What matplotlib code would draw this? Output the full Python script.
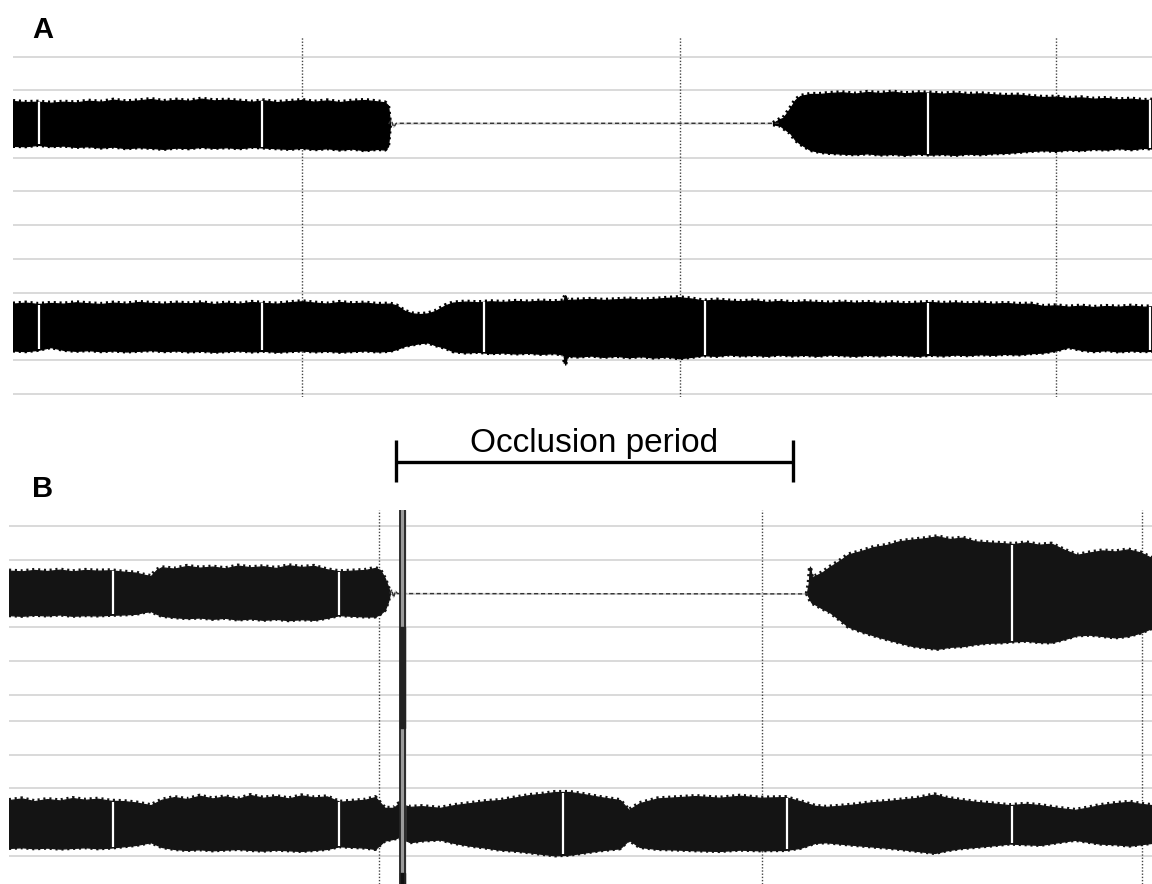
import numpy as np
import matplotlib
matplotlib.use("Agg")
from matplotlib import pyplot as plt

plt.rcParams['font.family'] = ['Liberation Sans', 'DejaVu Sans']

# time in s, amplitude in grid divisions relative to each channel baseline

# ---------------- panel A ----------------
a_ch2_base = -6.0
a_grid = [2, 1, 0, -1, -2, -3, -4, -5, -6, -7, -8]
a_marks = [46.0, 106.2, 166.0]
a_gaps = [4.2, 39.6, 75.0, 110.1, 145.6, 181.0]

# channel 1, before occlusion
a1_pre_t = [0, 2, 4, 6, 8, 10, 12, 14, 16, 18, 20, 22, 24, 26, 28, 30, 32, 34, 36, 38,
            40, 42, 44, 46, 48, 50, 52, 54, 56, 58, 59.2, 59.7, 60.0]
a1_pre_top = [0.68, 0.65, 0.66, 0.63, 0.66, 0.64, 0.69, 0.66, 0.72, 0.67, 0.70, 0.74, 0.68,
              0.72, 0.69, 0.75, 0.70, 0.72, 0.69, 0.66, 0.70, 0.65, 0.68, 0.71, 0.66, 0.70,
              0.65, 0.69, 0.71, 0.67, 0.64, 0.55, 0.04]
a1_pre_bot = [-0.65, -0.66, -0.62, -0.66, -0.64, -0.68, -0.66, -0.70, -0.67, -0.72, -0.69,
              -0.71, -0.74, -0.70, -0.72, -0.68, -0.71, -0.69, -0.72, -0.68, -0.70, -0.72,
              -0.74, -0.71, -0.75, -0.72, -0.76, -0.73, -0.78, -0.74, -0.76, -0.66, -0.04]
# channel 1, flat during occlusion
a1_flat_t = [59.8, 60.2, 60.6, 61.0, 122.1]
a1_flat_v = [0.0, 0.12, -0.10, 0.02, 0.02]
# channel 1, reperfusion
a1_post_t = [121.0, 122.1, 122.6, 123.7, 124.5, 125.3, 126.1, 126.9, 128.4, 130, 132, 134,
             136, 138, 140, 142, 144, 146, 148, 150, 152, 154, 156, 158, 160, 162, 164, 166,
             168, 170, 172, 174, 176, 178, 180, 181.3]
a1_post_top = [0.03, 0.15, 0.18, 0.47, 0.71, 0.83, 0.86, 0.89, 0.89, 0.92, 0.94, 0.90, 0.95,
               0.92, 0.96, 0.91, 0.94, 0.93, 0.90, 0.93, 0.89, 0.91, 0.88, 0.86, 0.87, 0.83,
               0.80, 0.81, 0.77, 0.79, 0.75, 0.77, 0.73, 0.75, 0.71, 0.72]
a1_post_bot = [-0.01, -0.05, -0.12, -0.27, -0.47, -0.59, -0.68, -0.77, -0.83, -0.86, -0.88,
               -0.90, -0.87, -0.91, -0.89, -0.92, -0.88, -0.91, -0.89, -0.92, -0.88, -0.90,
               -0.87, -0.86, -0.83, -0.80, -0.78, -0.80, -0.76, -0.78, -0.74, -0.76, -0.72,
               -0.75, -0.71, -0.73]

# channel 2
a2_t = [0, 2, 4, 6, 8, 10, 12, 14, 16, 18, 20, 22, 24, 26, 28, 30, 32, 34, 36, 38, 40, 42,
        44, 46, 48, 50, 52, 54, 56, 58, 60,
        61, 62.4, 63.6, 64.8, 66, 67.2, 68.8,
        70, 72, 74, 76, 78, 80, 82, 84, 86,
        87.6, 87.9, 88.2,
        90, 92, 94, 96, 98, 100, 102, 104, 106, 108, 110, 112, 114, 116, 118, 120, 122, 124,
        126, 128, 130, 132, 134, 136, 138, 140, 142, 144, 146, 148, 150, 152, 154, 156, 158,
        160, 162, 164, 166, 168, 170, 172, 174, 176, 178, 180,
        181.3]
a2_top = [0.67, 0.70, 0.66, 0.69, 0.67, 0.71, 0.68, 0.66, 0.70, 0.67, 0.72, 0.69, 0.67, 0.70,
          0.68, 0.71, 0.66, 0.70, 0.67, 0.72, 0.69, 0.67, 0.71, 0.74, 0.70, 0.67, 0.72, 0.68,
          0.70, 0.66, 0.67,
          0.62, 0.45, 0.38, 0.36, 0.38, 0.45, 0.62,
          0.70, 0.73, 0.71, 0.74, 0.72, 0.75, 0.73, 0.76, 0.74,
          0.76, 0.92, 0.78,
          0.79, 0.81, 0.78, 0.80, 0.82, 0.79, 0.81, 0.84, 0.86, 0.82, 0.76, 0.79, 0.76, 0.74,
          0.77, 0.72, 0.75, 0.71, 0.74, 0.72, 0.70, 0.73, 0.70, 0.72, 0.69, 0.71, 0.68, 0.70,
          0.72, 0.69, 0.71, 0.68, 0.70, 0.67, 0.69, 0.66, 0.67, 0.60, 0.62, 0.58, 0.61, 0.57,
          0.60, 0.58, 0.61, 0.58,
          0.59]
a2_bot = [-0.72, -0.74, -0.70, -0.62, -0.70, -0.73, -0.71, -0.74, -0.72, -0.75, -0.73, -0.71,
          -0.74, -0.72, -0.75, -0.73, -0.76, -0.74, -0.72, -0.75, -0.73, -0.76, -0.74, -0.72,
          -0.75, -0.73, -0.76, -0.74, -0.72, -0.75, -0.73,
          -0.68, -0.58, -0.54, -0.50, -0.48, -0.56, -0.64,
          -0.74, -0.78, -0.76, -0.80, -0.78, -0.81, -0.79, -0.82, -0.80,
          -0.84, -1.14, -0.88,
          -0.90, -0.87, -0.91, -0.88, -0.92, -0.89, -0.93, -0.90, -0.95, -0.91, -0.86, -0.88,
          -0.84, -0.87, -0.85, -0.88, -0.84, -0.87, -0.85, -0.88, -0.84, -0.86, -0.88, -0.85,
          -0.87, -0.84, -0.86, -0.88, -0.85, -0.87, -0.84, -0.86, -0.83, -0.85, -0.82, -0.84,
          -0.80, -0.78, -0.72, -0.62, -0.70, -0.74, -0.71, -0.75, -0.72, -0.74,
          -0.73]

# ---------------- panel B ----------------
b_ch2_base = -6.78
b_grid = [2, 1, 0, -1, -2, -3, -3.78, -4.78, -5.78, -6.78, -7.78]
b_marks = [58.2, 118.4, 178.2]
b_gaps = [16.4, 51.9, 87.1, 122.4, 157.8]
b_artifact = [61.5, 62.3]
occlusion = [60.9, 123.3]

b1_pre_t = [0, 2, 4, 6, 8, 10, 12, 14, 16, 18, 20, 21.2, 22.3, 23.2,
            24, 26, 28, 30, 32, 34, 36, 38, 40, 42, 44, 46, 48, 50,
            52, 54, 56, 57.6, 58.4, 59.1, 59.6, 59.9]
b1_pre_top = [0.68, 0.66, 0.70, 0.67, 0.71, 0.66, 0.70, 0.68, 0.69, 0.65, 0.62, 0.56, 0.52,
              0.70, 0.78, 0.74, 0.82, 0.77, 0.80, 0.75, 0.83, 0.78, 0.81, 0.76, 0.84, 0.79,
              0.82, 0.72, 0.66, 0.68, 0.70, 0.76, 0.70, 0.46, 0.22, 0.02]
b1_pre_bot = [-0.64, -0.66, -0.63, -0.65, -0.62, -0.66, -0.64, -0.65, -0.63, -0.62, -0.60,
              -0.55, -0.52, -0.60, -0.66, -0.70, -0.73, -0.71, -0.75, -0.72, -0.77, -0.74,
              -0.78, -0.75, -0.79, -0.76, -0.78, -0.72, -0.64, -0.66, -0.68, -0.68, -0.60,
              -0.49, -0.25, -0.02]
b1_flat_t = [59.9, 60.2, 60.5, 60.8, 61.1, 125.7]
b1_flat_v = [0.0, 0.12, -0.12, 0.08, 0.0, -0.01]
b1_post_t = [125.5, 125.8, 126.0, 126.3, 126.8, 128, 129.1, 130.7,
             132, 134, 136, 138, 140, 142, 144, 146, 148, 150, 152, 154, 156, 158, 160, 162,
             164, 166, 168, 170, 172, 174, 176, 178, 179.8]
b1_post_top = [0.0, 0.30, 0.80, 0.49, 0.52, 0.64, 0.79, 0.98,
               1.16, 1.26, 1.38, 1.44, 1.55, 1.60, 1.64, 1.70, 1.62, 1.66, 1.55, 1.52, 1.50,
               1.47, 1.52, 1.45, 1.48, 1.30, 1.15, 1.22, 1.28, 1.25, 1.31, 1.22, 1.05]
b1_post_bot = [0.0, -0.10, -0.19, -0.28, -0.32, -0.45, -0.55, -0.78,
               -0.98, -1.12, -1.24, -1.35, -1.45, -1.55, -1.60, -1.64, -1.58, -1.56, -1.50,
               -1.46, -1.45, -1.42, -1.40, -1.44, -1.45, -1.35, -1.24, -1.22, -1.26, -1.30,
               -1.26, -1.16, -1.02]

b2_t = [0, 2, 4, 6, 8, 10, 12, 14, 16, 18, 20, 22.3, 24,
        26, 28, 30, 32, 34, 36, 38, 40, 42, 44, 46, 48, 50,
        52, 54, 56, 57.6, 59.1, 60.5, 61.3,
        63.1, 65, 67.8, 70, 72.5, 75, 77.2, 80, 81.9, 84, 85.9, 88.2, 90, 93.0, 96.1, 97.5,
        99.2, 102, 105.5, 108, 111.8, 115, 118.1, 122.1, 124.4, 126.8, 128.5, 130.7, 133,
        135.4, 138, 140.1, 143, 145.6, 147.5, 149.6, 152, 154.3, 157.4, 160, 162.2, 165,
        167.7, 169.5, 171.6, 174, 176.3, 178, 179.8]
b2_top = [0.65, 0.70, 0.62, 0.68, 0.64, 0.71, 0.66, 0.69, 0.63, 0.62, 0.58, 0.50, 0.66,
          0.74, 0.68, 0.78, 0.70, 0.76, 0.69, 0.80, 0.72, 0.77, 0.70, 0.79, 0.73, 0.76,
          0.60, 0.63, 0.66, 0.74, 0.42, 0.42, 0.55,
          0.45, 0.47, 0.42, 0.50, 0.56, 0.62, 0.65, 0.74, 0.80, 0.84, 0.89, 0.89, 0.84, 0.74,
          0.65, 0.36, 0.56, 0.70, 0.74, 0.77, 0.72, 0.78, 0.72, 0.74, 0.62, 0.48, 0.45, 0.48,
          0.52, 0.58, 0.62, 0.66, 0.72, 0.82, 0.72, 0.66, 0.60, 0.56, 0.50, 0.54, 0.50, 0.42,
          0.36, 0.42, 0.50, 0.56, 0.60, 0.54, 0.50]
b2_bot = [-0.77, -0.75, -0.78, -0.76, -0.79, -0.77, -0.75, -0.78, -0.76, -0.72, -0.68, -0.60,
          -0.74, -0.80, -0.83, -0.81, -0.84, -0.82, -0.80, -0.83, -0.85, -0.82, -0.84, -0.86,
          -0.83, -0.80, -0.72, -0.74, -0.76, -0.80, -0.55, -0.50, -0.45,
          -0.60, -0.55, -0.52, -0.62, -0.70, -0.76, -0.82, -0.86, -0.90, -0.95, -0.99, -0.97,
          -0.92, -0.84, -0.78, -0.53, -0.74, -0.80, -0.82, -0.84, -0.86, -0.82, -0.84, -0.83,
          -0.77, -0.62, -0.60, -0.64, -0.68, -0.72, -0.76, -0.80, -0.86, -0.92, -0.84, -0.78,
          -0.74, -0.70, -0.64, -0.66, -0.68, -0.60, -0.53, -0.58, -0.64, -0.66, -0.70, -0.66,
          -0.62]


def fill_trace(ax, t, top, bot, base, color):
    t = np.asarray(t, dtype=float)
    hi = base + np.asarray(top)
    lo = base + np.asarray(bot)
    ax.fill_between(t, lo, hi, color=color, lw=0.9, edgecolor=color, zorder=3)
    # serrated beat-to-beat edge
    ax.plot(t, hi, color=color, lw=3.0, dashes=(0.5, 0.9), zorder=3)
    ax.plot(t, lo, color=color, lw=3.0, dashes=(0.5, 0.9), zorder=3)
    return t, hi, lo


def gap_marks(ax, gaps, t, hi, lo):
    for g in gaps:
        if t[0] < g < t[-1]:
            top = np.interp(g, t, hi)
            bot = np.interp(g, t, lo)
            if top - bot > 0.4:
                ax.vlines(g, bot + 0.02, top - 0.02, color='white', lw=1.6, zorder=4)


def setup_panel(ax, xmax, ylim, grid, marks):
    ax.set_xlim(0, xmax)
    ax.set_ylim(*ylim)
    ax.axis('off')
    for g in grid:
        ax.axhline(g, color='#d9d9d9', lw=1.4, zorder=1)
    for m in marks:
        ax.axvline(m, color='#444444', lw=1.0, ls=(0, (1, 1.3)), zorder=2)


W, H = 1152, 884
fig = plt.figure(figsize=(W / 100, H / 100), dpi=100)

# panel A
axA = fig.add_axes([13 / W, 1 - 397 / H, 1139 / W, 360 / H])
setup_panel(axA, 181.3, (-8.1, 2.58), a_grid, a_marks)
for tt, tp, bt, base in [(a1_pre_t, a1_pre_top, a1_pre_bot, 0),
                         (a1_post_t, a1_post_top, a1_post_bot, 0),
                         (a2_t, a2_top, a2_bot, a_ch2_base)]:
    t, hi, lo = fill_trace(axA, tt, tp, bt, base, 'black')
    gap_marks(axA, a_gaps, t, hi, lo)
axA.plot(a1_flat_t, a1_flat_v, color='#d0d0d0', lw=1.0, zorder=2)
axA.plot(a1_flat_t, a1_flat_v, color='#333333', lw=1.0, dashes=(3, 2), zorder=3)

# panel B
axB = fig.add_axes([9 / W, 0, 1143 / W, 374 / H])
setup_panel(axB, 179.8, (-8.62, 2.48), b_grid, b_marks)
for tt, tp, bt, base in [(b1_pre_t, b1_pre_top, b1_pre_bot, 0),
                         (b1_post_t, b1_post_top, b1_post_bot, 0),
                         (b2_t, b2_top, b2_bot, b_ch2_base)]:
    t, hi, lo = fill_trace(axB, tt, tp, bt, base, '#141414')
    gap_marks(axB, b_gaps, t, hi, lo)
axB.plot(b1_flat_t, b1_flat_v, color='#d0d0d0', lw=1.0, zorder=2)
axB.plot(b1_flat_t, b1_flat_v, color='#333333', lw=1.0, dashes=(3, 2), zorder=3)

# movement artifact at the start of occlusion
axB.axvspan(b_artifact[0], b_artifact[1], color='#9a9a9a', zorder=5)
axB.fill_betweenx([-1.0, -4.0], b_artifact[0], b_artifact[1], color='#222222', zorder=5)
axB.fill_betweenx([-8.3, -8.62], b_artifact[0], b_artifact[1], color='#111111', zorder=5)
axB.vlines(b_artifact, -8.62, 2.48, color='#222222', lw=1.3, zorder=6)

# occlusion bracket
axB.plot(occlusion, [3.9, 3.9], color='black', lw=2.4, clip_on=False, solid_capstyle='butt')
axB.vlines(occlusion, 3.31, 4.55, color='black', lw=2.4, clip_on=False)
axB.text(np.mean(occlusion), 4.2, 'Occlusion period', ha='center', va='baseline',
         fontsize=24, clip_on=False)

fig.text(32 / W, 1 - 38 / H, 'A', fontsize=21, fontweight='bold', va='baseline')
fig.text(32 / W, 1 - 497 / H, 'B', fontsize=21, fontweight='bold', va='baseline')

fig.savefig('out.png', dpi=100)
